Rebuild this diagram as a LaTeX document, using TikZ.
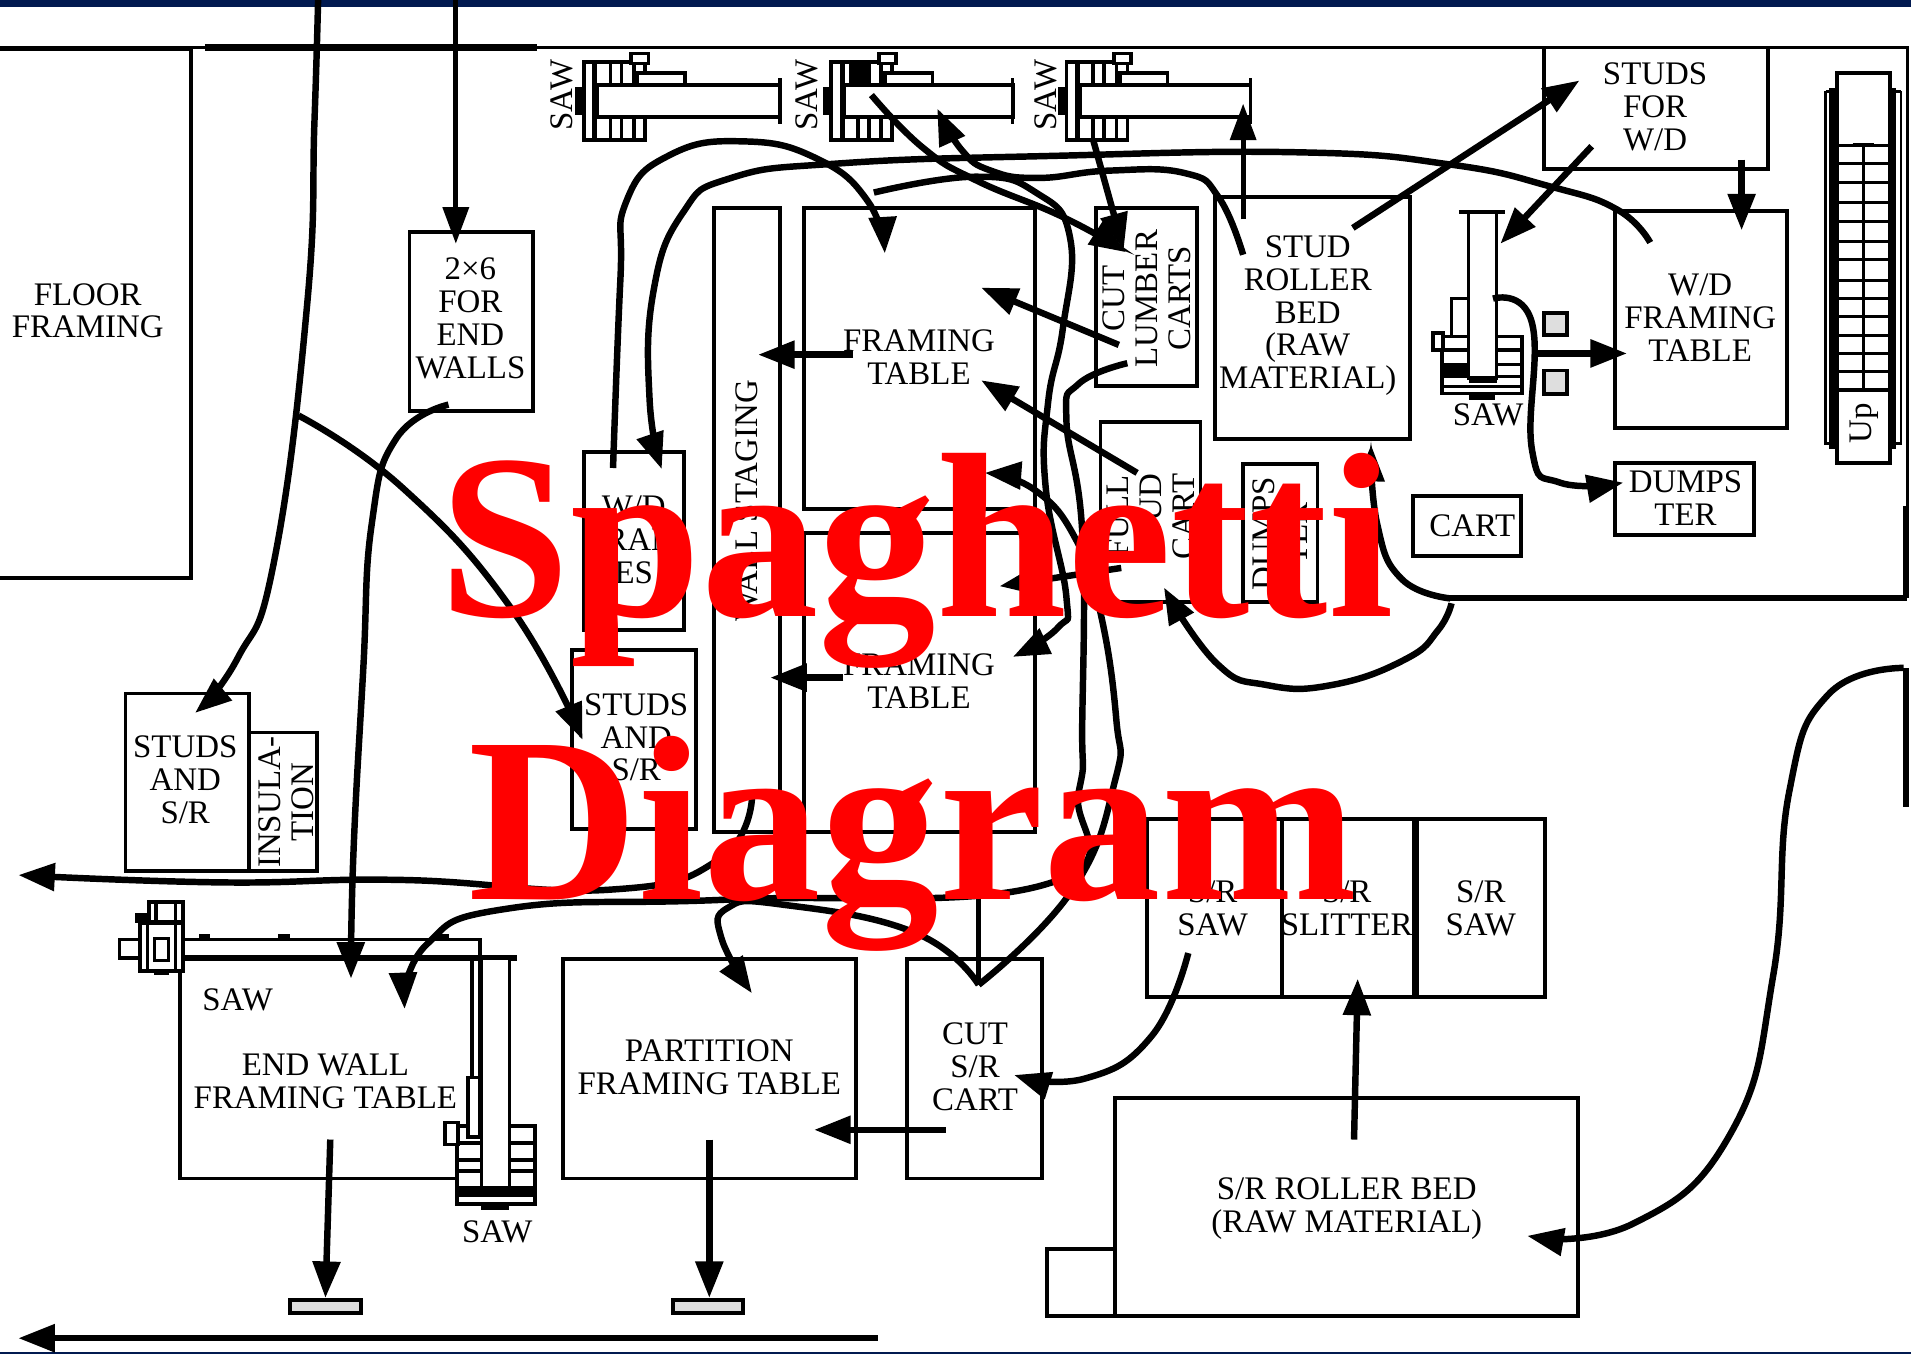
\documentclass[tikz,border=0pt]{standalone}
\usepackage{fontspec}
\setmainfont{Liberation Serif}
\usetikzlibrary{arrows.meta}
\definecolor{band}{HTML}{011A50}
\definecolor{palegray}{HTML}{DEDEDE}
\newcommand{\bx}[5]{\node[box,minimum width={(#4-#2)*1pt},minimum height={(#5-#3)*1pt}] (#1) at ({(#2+#4)/2},{(#3+#5)/2}) {};}
\newcommand{\lab}[4][]{\node[lbl,#1] (#2) at (#3) {#4};}
\newcommand{\straight}[4][flow]{\coordinate (#2-s) at (#3);\coordinate (#2-e) at (#4);\draw[#1] (#2-s) -- (#2-e);}
\newcommand{\curve}[4]{\coordinate (#1-s) at (#2);\coordinate (#1-e) at (#4);\draw[flow] plot[smooth,tension=.8] coordinates {(#1-s) #3 (#1-e)};}
\newcommand{\topsaw}[2]{%
  \draw[wl,fill=white] (#1,51) rectangle ({#1+50},115);
  \foreach \d in {22,31,41}{\draw[wl] ({#1+\d},51) -- ({#1+\d},70);\draw[wl] ({#1+\d},96) -- ({#1+\d},115);}
  \draw[wl,line width=4pt] ({#1+9},51) -- ({#1+9},115);
  \draw[wl,fill=white] ({#1+44},70) -- ({#1+44},60) -- ({#1+83},60) -- ({#1+83},70);
  \draw[wl,fill=white] ({#1+39},44) rectangle ({#1+53},52);
  \draw[wl,fill=white] ({#1+11},70) rectangle (#2,96);
  \fill ({#1-7},71) rectangle (#1,94);
  \draw[line width=2.5pt] (#2,64) -- (#2,102);
}
\tikzset{
  x=1pt,y=-1pt,
  box/.style={draw,line width=3.2pt,fill=white,inner sep=0pt,outer sep=0pt},
  lbl/.style={font=\fontsize{27}{27}\selectfont,align=center,inner sep=0pt},
  wl/.style={line width=3pt},
  flow/.style={line width=5.3pt,-{Triangle[length=30pt,width=22pt]}},
  thinflow/.style={line width=4pt,-{Triangle[length=30pt,width=21pt]}},
  title/.style={font=\fontsize{193}{193}\selectfont\bfseries,text=red,anchor=base,inner sep=0pt},
}
\begin{document}
\begin{tikzpicture}
\useasboundingbox (0,0) rectangle (1568,1111);
\fill[white] (0,0) rectangle (1568,1111);
\fill[band] (0,0) rectangle (1568,5.5);
\fill[band] (0,1109.6) rectangle (1568,1111);
% walls
\draw[wl] (0,39) -- (1565,39) -- (1565,490);
\draw[line width=6pt] (168,39) -- (441,39);
\draw[line width=5pt] (1190,491) -- (1565,491);
\draw[line width=5pt] (1564,415) -- (1564,491);
\draw[line width=5pt] (1564,548) -- (1564,662);
% boxes
\bx{floor}{-3}{40}{157}{474}
\bx{twosix}{336}{190}{437}{337}
\bx{wdstudsb}{1267}{39}{1451}{139}
\bx{staging}{586}{171}{640}{683}
\bx{table1}{660}{171}{849}{418}
\bx{table2}{660}{437}{849}{683}
\bx{wdframes}{479}{371}{561}{517}
\bx{studsc}{469}{533}{571}{680}
\bx{studsl}{103}{569}{204}{715}
\bx{insul}{204}{601}{260}{715}
\bx{cutlumber}{899}{171}{982}{317}
\bx{fullstud}{903}{346}{985}{494}
\bx{dumpa}{1020}{381}{1081}{494}
\bx{roller}{997}{162}{1157}{360}
\bx{cart}{1159}{407}{1248}{456}
\bx{wdtable}{1325}{173}{1466}{351}
\bx{dumpb}{1325}{380}{1439}{439}
\bx{endwall}{148}{786}{387}{967}
\bx{partition}{462}{787}{702}{967}
\bx{cutsr}{744}{787}{855}{967}
\bx{srsawa}{941}{672}{1052}{818}
\bx{slitter}{1052}{672}{1160}{818}
\bx{srsawb}{1163}{672}{1268}{818}
\bx{stub}{859}{1025}{915}{1080}
\bx{srbed}{915}{901}{1295}{1080}
\draw[line width=4pt] (1161,672) -- (1161,818);
% gray squares and pallets
\node[box,fill=palegray,minimum width=19pt,minimum height=18pt] (sqa) at (1276.5,266) {};
\node[box,fill=palegray,minimum width=19pt,minimum height=19pt] (sqb) at (1276.5,313.5) {};
\node[box,fill=palegray,minimum width=58pt,minimum height=10pt] (pala) at (267,1072) {};
\node[box,fill=palegray,minimum width=58pt,minimum height=10pt] (palb) at (581,1072) {};
% top saws
\topsaw{479}{640}
\topsaw{682}{831}
\topsaw{875}{1026}
\fill (697,51) rectangle (714,70);
% right saw
\draw[wl,fill=white] (1183,276) rectangle (1249,323);
\foreach \yy in {287,299,309,317}{\draw[wl] (1183,\yy) -- (1249,\yy);}
\fill (1183,299) rectangle (1205,309);
\draw[wl,fill=white] (1191,276) -- (1191,245) -- (1205,245);
\draw[wl,fill=white] (1176,273) rectangle (1184,287);
\draw[wl,fill=white] (1205,174) rectangle (1228,310);
\fill (1205,309) rectangle (1228,314);
\fill (1205,323) rectangle (1227,328);
\draw[wl] (1197,174) -- (1235,174);
% end wall saws
\draw[wl,fill=white] (98,771) rectangle (394,786);
\draw[line width=4.5pt] (148,786) -- (424,786);
\foreach \xa/\xb in {163/172,228/238,358/368}{\fill (\xa,766) rectangle (\xb,771);}
\draw[wl,fill=white] (122,740) rectangle (150,757);
\fill (111,749) rectangle (122,757);
\draw[line width=3.5pt,fill=white] (115,757) rectangle (150,797);
\fill (126,796) rectangle (139,800);
\draw[line width=3pt] (121,757) -- (121,797) (144,757) -- (144,797);
\draw[line width=2.5pt] (127,770) rectangle (138,788);
\draw[line width=3pt] (128,742) -- (128,757) (144,742) -- (144,757);
\draw[line width=2.5pt] (127,757) -- (138,757);
\draw[wl,fill=white] (375,924) rectangle (439,988);
\foreach \yy in {938,952,961,975}{\draw[wl] (375,\yy) -- (439,\yy);}
\fill (375,975) rectangle (439,982);
\draw[wl,fill=white] (365,921) rectangle (376,939);
\draw[wl,fill=white] (384,884) rectangle (394,933);
\draw[wl] (387,786) -- (387,884) (394,786) -- (394,884);
\draw[wl,fill=white] (395,786) rectangle (418,975);
\fill (395,988) rectangle (418,993);
% stairs
\draw[line width=2pt] (1498,75) -- (1498,364) -- (1507,364);
\draw[line width=2pt] (1498,75) -- (1507,75);
\fill (1501,72) rectangle (1507,368);
\fill (1552,72) rectangle (1556,368);
\draw[line width=2pt] (1560,75) -- (1560,364) -- (1552,364);
\draw[line width=2pt] (1552,75) -- (1560,75);
\bx{stairs}{1507}{60}{1551}{380}
\foreach \yy in {119,134,150,166,182,198,213,230,245,260,275,290,305,320}{\draw[line width=2.5pt] (1507,\yy) -- (1551,\yy);}
\draw[line width=2.5pt] (1529,119) -- (1529,322);
\draw[line width=3pt] (1520,119) -- (1538,119);
% labels
\lab{lfloor}{72,255}{FLOOR\\FRAMING}
\lab{ltwosix}{386,261}{2×6\\FOR\\END\\WALLS}
\lab{lstudsw}{1358,88}{STUDS\\FOR\\W/D}
\lab[rotate=90]{lstaging}{613,411}{WALL STAGING}
\lab{ltable1}{754,293}{FRAMING\\TABLE}
\lab{ltable2}{754,559}{FRAMING\\TABLE}
\lab{lwdframes}{520,443}{W/D\\FRAM\\ES}
\lab{lstudsc}{522,605}{STUDS\\AND\\S/R}
\lab{lstudsl}{152,640}{STUDS\\AND\\S/R}
\lab[rotate=90]{linsul}{235,658}{INSULA-\\TION}
\lab[rotate=90]{lcut}{941,245}{CUT\\LUMBER\\CARTS}
\lab[rotate=90]{lfull}{944,424}{FULL\\STUD\\CART}
\lab[rotate=90]{ldumpa}{1050,438}{DUMPS\\TER}
\lab{lroller}{1073,259}{STUD\\ROLLER\\BED\\(RAW\\MATERIAL)}
\lab{lcart}{1208,431}{CART}
\lab{lwd}{1395,261}{W/D\\FRAMING\\TABLE}
\lab{ldumpb}{1383,409}{DUMPS\\TER}
\lab[rotate=90]{lup}{1530,347}{Up}
\lab{lsawr}{1221,340}{SAW}
\lab{lsawe}{195,820}{SAW}
\lab{lsawf}{408,1011}{SAW}
\lab[rotate=90]{lsaw1}{461,78}{SAW}
\lab[rotate=90]{lsaw2}{662,78}{SAW}
\lab[rotate=90]{lsaw3}{858,78}{SAW}
\lab{lend}{267,887}{END WALL\\FRAMING TABLE}
\lab{lpart}{582,876}{PARTITION\\FRAMING TABLE}
\lab{lcutsr}{800,875}{CUT\\S/R\\CART}
\lab{lsra}{995,745}{S/R\\SAW}
\lab{lslit}{1105,745}{S/R\\SLITTER}
\lab{lsrb}{1215,745}{S/R\\SAW}
\lab{lbed}{1105,992}{S/R ROLLER BED\\(RAW MATERIAL)}
% straight flows
\straight[thinflow]{f1}{374,0}{374,200}
\straight{f2}{933,388}{805,312}
\straight{f3}{918,283}{805,236}
\straight{f4}{920,466}{820,481}
\straight{f5}{700,291}{622,291}
\straight{f6}{692,556}{632,556}
\straight{f7}{776,927}{668,927}
\straight{f8}{1111,935}{1114,803}
\straight{f9}{271,935}{267,1065}
\straight{f10}{582,935}{582,1065}
\straight{f11}{720,1098}{15,1098}
\straight{f12}{1110,187}{1296,66}
\straight{f13}{1306,120}{1231,200}
\straight{f14}{1429,131}{1429,189}
\straight{f15}{1258,290}{1335,290}
\straight[thinflow]{f16}{1020,180}{1020,85}
\straight{f17}{897,115}{922,205}
\draw[line width=4pt] (803,690) -- (803,808);
% curved flows
\curve{c1}{261,0}{(258,100) (252,250) (225,460) (195,540)}{160,585}
\curve{c2}{368,332}{(325,360) (305,430) (298,550) (290,700)}{288,803}
\curve{c3}{245,341}{(330,400) (420,500)}{478,607}
\curve{c4}{617,655}{(590,705) (500,730) (330,722) (180,724)}{15,718}
\curve{c5}{925,298}{(885,315) (875,345) (888,437) (888,591) (885,650) (860,725) (600,738) (420,745) (350,775)}{332,828}
\curve{c6}{803,808}{(750,765) (640,742) (597,745) (592,770)}{617,815}
\curve{c7}{803,808}{(880,730) (915,640) (916,591) (903,503) (883,443) (849,402)}{808,388}
\curve{c8}{717,158}{(800,145) (850,158) (878,195) (872,270) (860,330) (858,400) (875,490) (868,515)}{831,539}
\curve{c9}{975,782}{(945,850) (890,885)}{832,882}
\curve{c10}{1562,548}{(1500,570) (1468,650) (1455,800) (1420,930) (1340,1004)}{1253,1014}
\curve{c11}{1190,491}{(1150,475) (1130,430)}{1125,365}
\curve{c12}{1191,495}{(1180,517) (1153,541) (1093,562) (1039,562) (998,544)}{955,482}
\curve{c13}{503,384}{(509,230) (514,165) (550,127) (610,116) (670,130) (712,165)}{726,208}
\curve{c14}{1354,199}{(1327,172) (1272,153) (1190,135) (1067,125) (860,128) (690,134) (600,146) (560,175) (536,240) (533,328)}{543,385}
\curve{c15}{1020,209}{(1000,162) (972,142) (910,140) (852,146) (813,140) (789,123)}{769,89}
\curve{c16}{715,78}{(757,121) (801,148) (872,178)}{924,207}
\curve{c17}{1225,245}{(1257,265) (1257,369) (1280,396)}{1332,396}
% title
\node[title] (titlea) at (752,506) {Spaghetti};
\node[title] (titleb) at (749,738) {Diagram};
\end{tikzpicture}
\end{document}
